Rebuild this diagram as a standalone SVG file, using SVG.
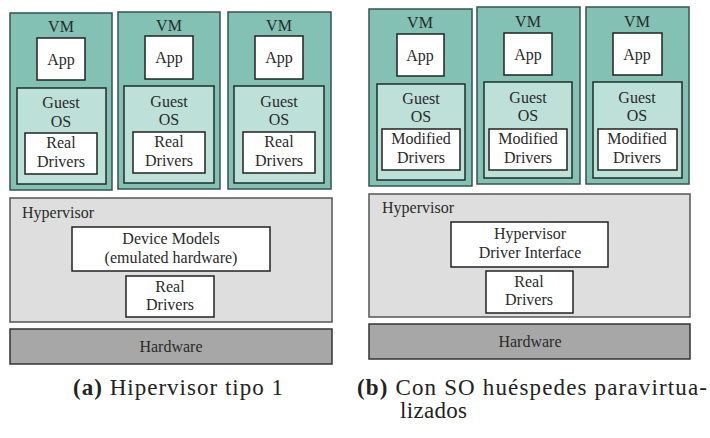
<svg xmlns="http://www.w3.org/2000/svg" width="710" height="438" viewBox="0 0 710 438">
<style>
.vm{fill:#82c1b4;stroke:#34544f;stroke-width:1.5}
.os{fill:#bde0d8;stroke:#1f2e2b;stroke-width:1.5}
.wb{fill:#ffffff;stroke:#222;stroke-width:1.5}
.hv{fill:#dedede;stroke:#555;stroke-width:1.5}
.hw{fill:#a7a7a7;stroke:#333;stroke-width:1.5}
text{font-family:"Liberation Serif","Times New Roman",serif;font-size:16px;fill:#2a2a2a;text-anchor:middle}
.l{text-anchor:start}
.cap{font-size:23px;fill:#222;text-anchor:start}
</style>
<rect width="710" height="438" fill="#fff"/>
<!-- Left panel -->
<g id="a-vm1">
<rect class="vm" x="10" y="13" width="102" height="177"/>
<text x="61" y="32">VM</text>
<rect class="wb" x="37" y="38" width="48" height="42"/>
<text x="61" y="65">App</text>
<rect class="os" x="17" y="88" width="89" height="96"/>
<text x="61" y="108">Guest</text>
<text x="61" y="127">OS</text>
<rect class="wb" x="25" y="133" width="72" height="41"/>
<text x="61" y="148">Real</text>
<text x="61" y="167">Drivers</text>
</g>
<g id="a-vm2">
<rect class="vm" x="118" y="12" width="102" height="177"/>
<text x="169" y="31">VM</text>
<rect class="wb" x="145" y="36" width="48" height="43"/>
<text x="169" y="63">App</text>
<rect class="os" x="124" y="86" width="90" height="97"/>
<text x="169" y="107">Guest</text>
<text x="169" y="125">OS</text>
<rect class="wb" x="133" y="132" width="72" height="41"/>
<text x="169" y="147">Real</text>
<text x="169" y="166">Drivers</text>
</g>
<g id="a-vm3">
<rect class="vm" x="228" y="12" width="103" height="177"/>
<text x="279" y="31">VM</text>
<rect class="wb" x="255" y="36" width="48" height="43"/>
<text x="279" y="63">App</text>
<rect class="os" x="234" y="86" width="90" height="97"/>
<text x="279" y="107">Guest</text>
<text x="279" y="125">OS</text>
<rect class="wb" x="243" y="132" width="72" height="41"/>
<text x="279" y="147">Real</text>
<text x="279" y="166">Drivers</text>
</g>
<g id="a-hypervisor">
<rect class="hv" x="10" y="198" width="322" height="124"/>
<text class="l" x="22" y="218">Hypervisor</text>
<rect class="wb" x="72" y="227" width="198" height="44"/>
<text x="171" y="244">Device Models</text>
<text x="171" y="263">(emulated hardware)</text>
<rect class="wb" x="126" y="276" width="88" height="41"/>
<text x="170" y="292">Real</text>
<text x="170" y="310">Drivers</text>
</g>
<g id="a-hardware">
<rect class="hw" x="10" y="329" width="322" height="35"/>
<text x="171" y="352">Hardware</text>
</g>
<!-- Right panel -->
<g id="b-vm1">
<rect class="vm" x="369" y="9" width="103" height="177"/>
<text x="420" y="28">VM</text>
<rect class="wb" x="397" y="34" width="47" height="42"/>
<text x="420" y="61">App</text>
<rect class="os" x="377" y="84" width="88" height="96"/>
<text x="421" y="104">Guest</text>
<text x="421" y="122">OS</text>
<rect class="wb" x="382" y="129" width="78" height="41"/>
<text x="421" y="144">Modified</text>
<text x="421" y="163">Drivers</text>
</g>
<g id="b-vm2">
<rect class="vm" x="477" y="7" width="103" height="177"/>
<text x="528" y="27">VM</text>
<rect class="wb" x="504" y="33" width="48" height="42"/>
<text x="528" y="60">App</text>
<rect class="os" x="484" y="82" width="88" height="96"/>
<text x="528" y="103">Guest</text>
<text x="528" y="121">OS</text>
<rect class="wb" x="489" y="129" width="78" height="41"/>
<text x="528" y="144">Modified</text>
<text x="528" y="163">Drivers</text>
</g>
<g id="b-vm3">
<rect class="vm" x="586" y="7" width="103" height="177"/>
<text x="637" y="27">VM</text>
<rect class="wb" x="613" y="33" width="49" height="42"/>
<text x="637" y="60">App</text>
<rect class="os" x="593" y="82" width="89" height="96"/>
<text x="637" y="103">Guest</text>
<text x="637" y="121">OS</text>
<rect class="wb" x="598" y="129" width="79" height="41"/>
<text x="637" y="144">Modified</text>
<text x="637" y="163">Drivers</text>
</g>
<g id="b-hypervisor">
<rect class="hv" x="369" y="194" width="321" height="123"/>
<text class="l" x="382" y="213">Hypervisor</text>
<rect class="wb" x="451" y="222" width="157" height="45"/>
<text x="530" y="239">Hypervisor</text>
<text x="530" y="258">Driver Interface</text>
<rect class="wb" x="486" y="271" width="87" height="42"/>
<text x="529" y="287">Real</text>
<text x="529" y="305">Drivers</text>
</g>
<g id="b-hardware">
<rect class="hw" x="369" y="324" width="321" height="35"/>
<text x="530" y="347">Hardware</text>
</g>
<!-- Captions -->
<g id="captions">
<text class="cap" x="73" y="395" textLength="210" lengthAdjust="spacing"><tspan font-weight="bold">(a)</tspan> Hipervisor tipo 1</text>
<text class="cap" x="357" y="395" textLength="350" lengthAdjust="spacing"><tspan font-weight="bold">(b)</tspan> Con SO huéspedes paravirtua-</text>
<text class="cap" x="400" y="418" textLength="67" lengthAdjust="spacing">lizados</text>
</g>
</svg>
